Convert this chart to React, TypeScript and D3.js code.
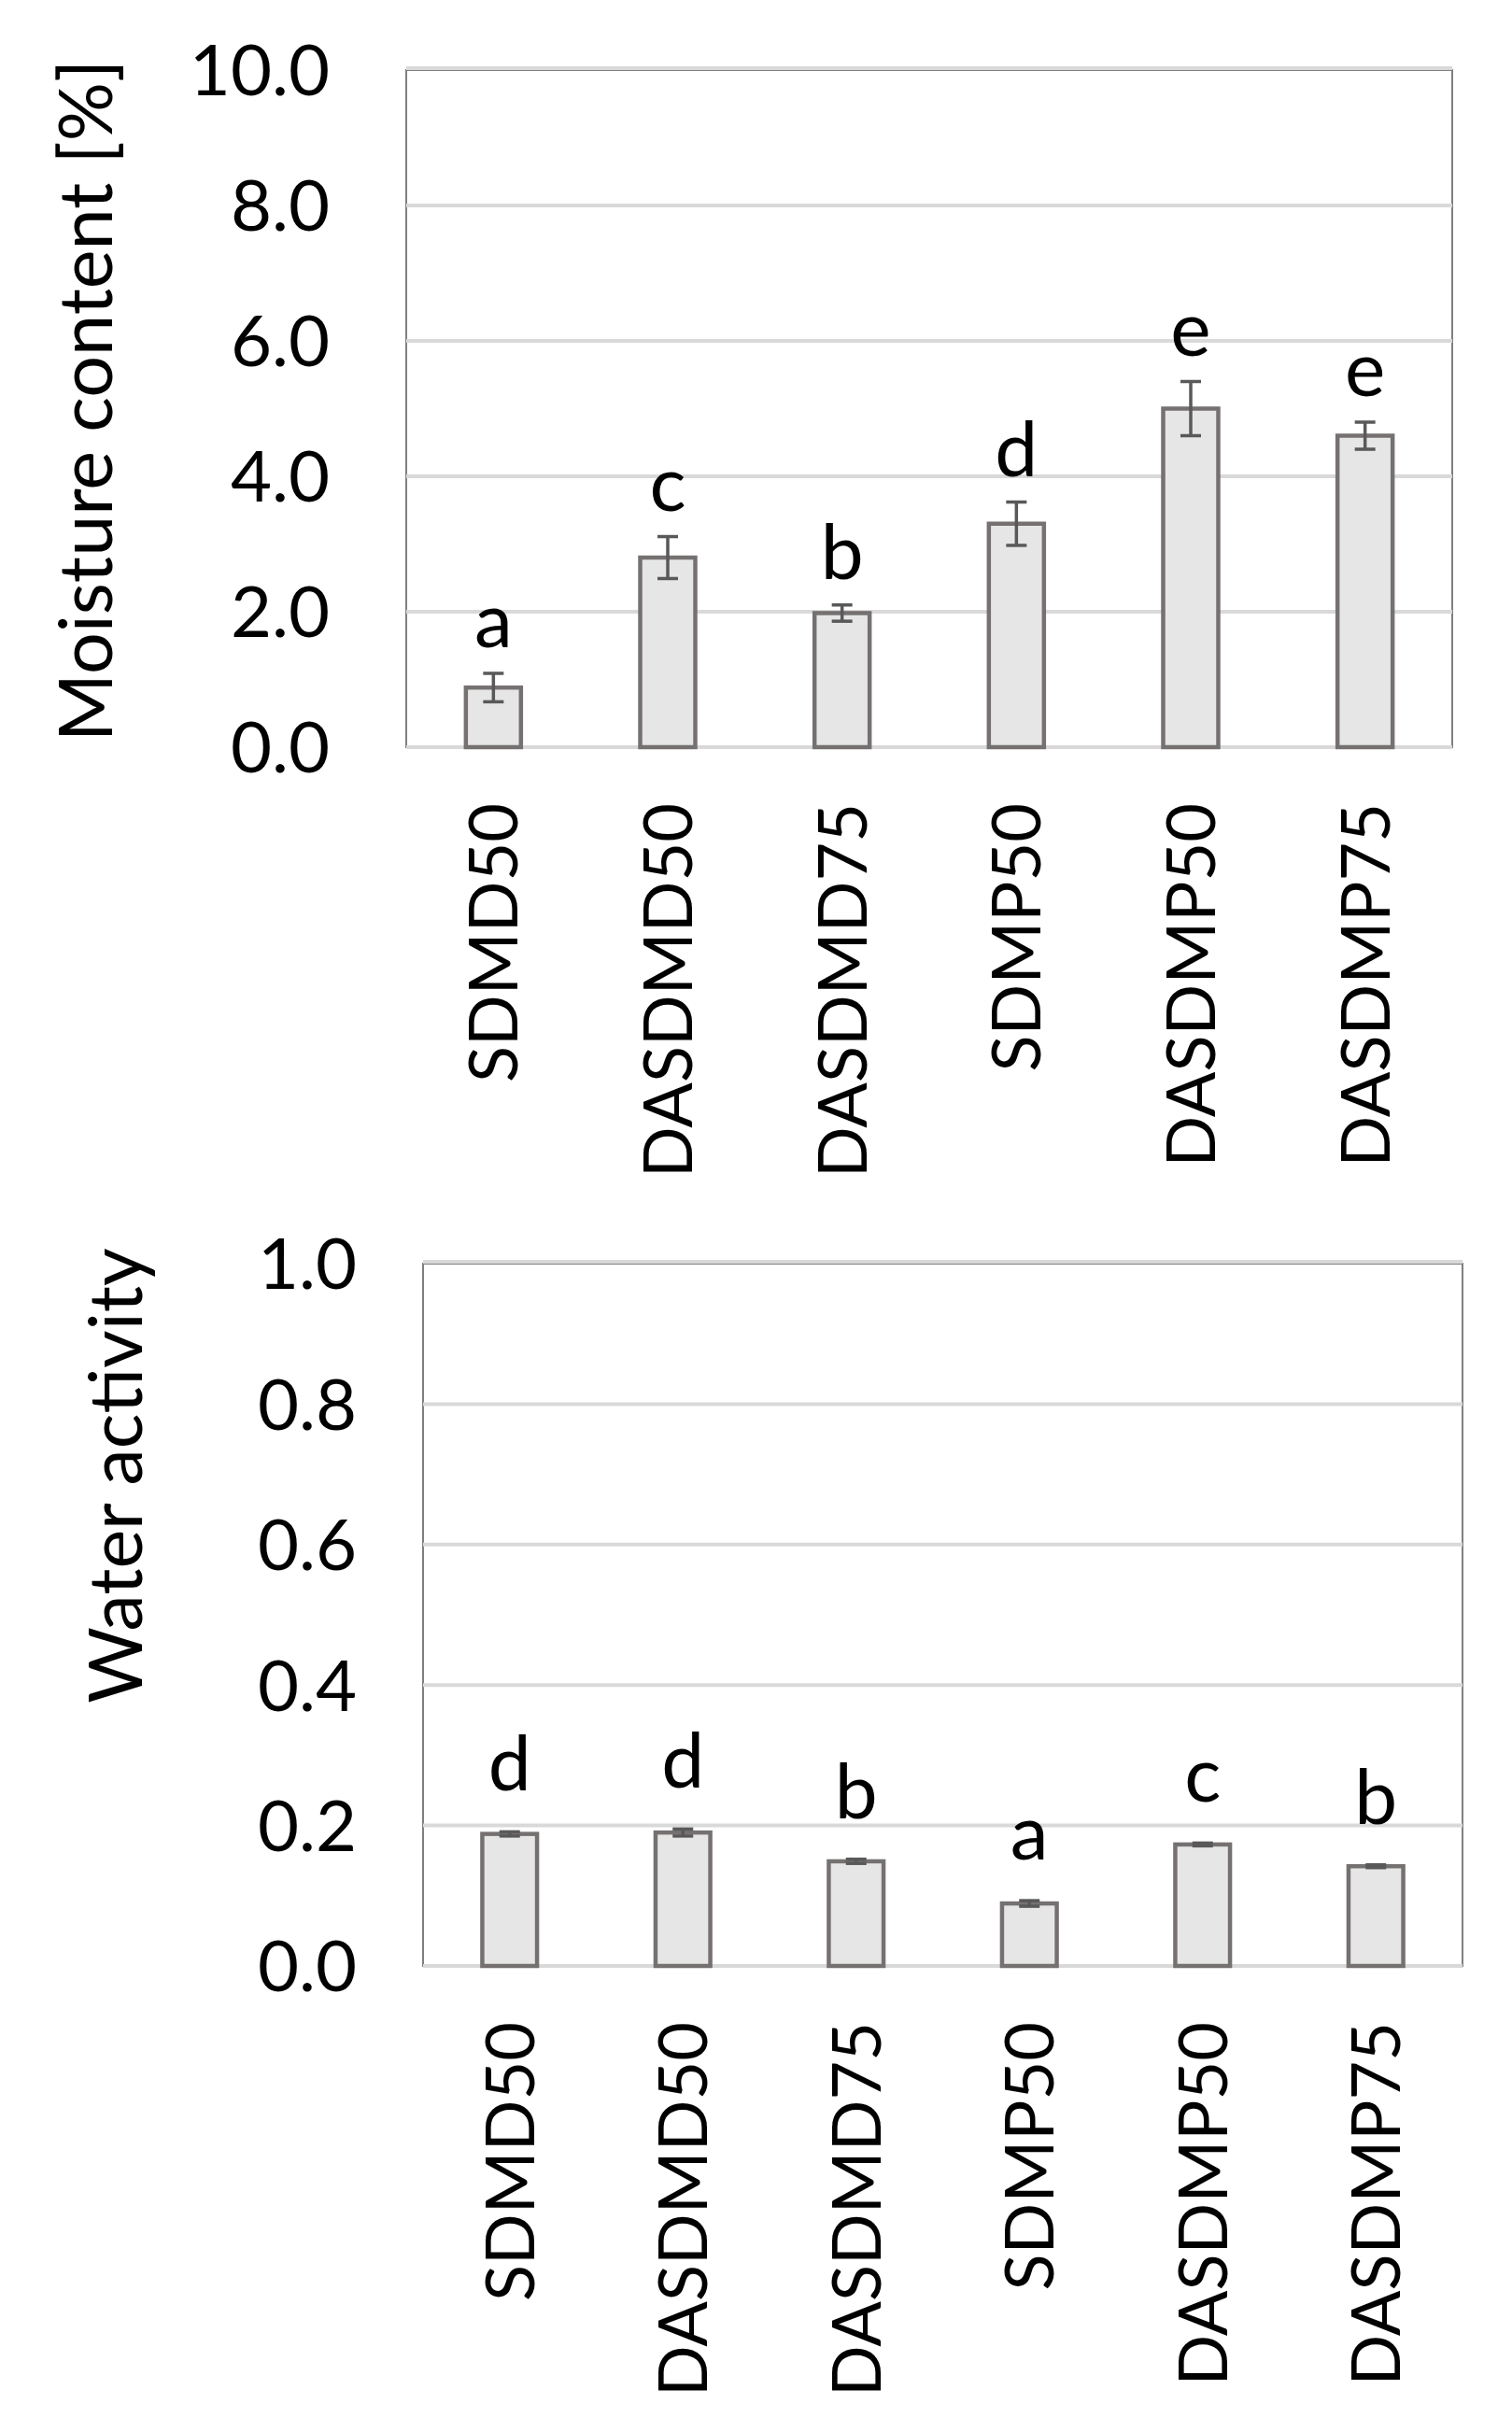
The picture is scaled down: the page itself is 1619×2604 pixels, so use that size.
import { useEffect, useRef } from 'react';
import * as d3 from 'd3';

// sample names, shared by both panels
const categories = ['SDMD50', 'DASDMD50', 'DASDMD75', 'SDMP50', 'DASDMP50', 'DASDMP75'];

// moisture content [%]
const moistureValues = [0.88, 2.8, 1.98, 3.3, 5.0, 4.6];
const moistureErrors = [0.21, 0.31, 0.12, 0.32, 0.4, 0.2];
const moistureLetters = ['a', 'c', 'b', 'd', 'e', 'e'];
const moistureTicks = [0, 2, 4, 6, 8, 10];

// water activity
const awValues = [0.188, 0.19, 0.149, 0.089, 0.173, 0.142];
const awErrors = [0.003, 0.005, 0.003, 0.004, 0.002, 0.002];
const awLetters = ['d', 'd', 'b', 'a', 'c', 'b'];
const awTicks = [0, 0.2, 0.4, 0.6, 0.8, 1.0];

const FONT = 'Lato, "Open Sans", sans-serif';

interface Panel {
  values: number[];
  errors: number[];
  letters: string[];
  ticks: number[];
  max: number;
  title: string;
  left: number;
  right: number;
  top: number;
  bottom: number;
  tickX: number;
  titleX: number;
  titleY: number;
  letterGap: number;
}

const panels: Panel[] = [
  {
    values: moistureValues, errors: moistureErrors, letters: moistureLetters,
    ticks: moistureTicks, max: 10, title: 'Moisture content [%]',
    left: 435, right: 1555, top: 75, bottom: 800,
    tickX: 353, titleX: 120, titleY: 429, letterGap: 28,
  },
  {
    values: awValues, errors: awErrors, letters: awLetters,
    ticks: awTicks, max: 1, title: 'Water activity',
    left: 453, right: 1566, top: 1353, bottom: 2105,
    tickX: 382, titleX: 152, titleY: 1580, letterGap: 44,
  },
];

export default function App() {
  const svgRef = useRef<SVGSVGElement>(null);

  useEffect(() => {
    if (!svgRef.current) return;
    const root = d3.select(svgRef.current);
    root.selectAll('*').remove();

    panels.forEach(p => {
      const g = root.append('g');

      const x = d3.scaleBand()
        .domain(categories)
        .range([p.left, p.right])
        .paddingInner(0.684)
        .paddingOuter(0.342);

      const y = d3.scaleLinear()
        .domain([0, p.max])
        .range([p.bottom, p.top]);

      // plot area border
      g.append('rect')
        .attr('x', p.left)
        .attr('y', p.top)
        .attr('width', p.right - p.left)
        .attr('height', p.bottom - p.top)
        .attr('fill', '#fff')
        .attr('stroke', '#7f7f7f')
        .attr('stroke-width', 2);

      // gridlines
      g.selectAll('line.grid')
        .data(p.ticks)
        .join('line')
        .attr('class', 'grid')
        .attr('x1', p.left)
        .attr('x2', p.right)
        .attr('y1', d => y(d) + (d === p.max ? -2 : 0))
        .attr('y2', d => y(d) + (d === p.max ? -2 : 0))
        .attr('stroke', '#d9d9d9')
        .attr('stroke-width', 4);

      // tick labels
      g.selectAll('text.tick')
        .data(p.ticks)
        .join('text')
        .attr('class', 'tick')
        .attr('x', p.tickX)
        .attr('y', d => y(d))
        .attr('dy', '0.36em')
        .attr('text-anchor', 'end')
        .attr('font-family', FONT)
        .attr('font-size', 76)
        .attr('fill', '#000')
        .text(d => d.toFixed(1));

      // bars
      g.selectAll('rect.bar')
        .data(p.values)
        .join('rect')
        .attr('class', 'bar')
        .attr('x', (_, i) => x(categories[i])!)
        .attr('y', d => y(d))
        .attr('width', x.bandwidth())
        .attr('height', d => p.bottom - y(d))
        .attr('fill', '#e6e6e6')
        .attr('stroke', '#767171')
        .attr('stroke-width', 4.5);

      // error bars
      const cx = (i: number) => x(categories[i])! + x.bandwidth() / 2;
      const err = g.append('g')
        .attr('stroke', '#595959')
        .attr('stroke-width', 3.5);
      p.values.forEach((v, i) => {
        const hi = y(v + p.errors[i]);
        const lo = y(v - p.errors[i]);
        err.append('line').attr('x1', cx(i)).attr('x2', cx(i)).attr('y1', hi).attr('y2', lo);
        err.append('line').attr('x1', cx(i) - 11).attr('x2', cx(i) + 11).attr('y1', hi).attr('y2', hi);
        err.append('line').attr('x1', cx(i) - 11).attr('x2', cx(i) + 11).attr('y1', lo).attr('y2', lo);
      });

      // significance letters
      g.selectAll('text.letter')
        .data(p.letters)
        .join('text')
        .attr('class', 'letter')
        .attr('x', (_, i) => cx(i))
        .attr('y', (_, i) => y(p.values[i] + p.errors[i]) - p.letterGap)
        .attr('text-anchor', 'middle')
        .attr('font-family', FONT)
        .attr('font-size', 82)
        .attr('fill', '#000')
        .text(d => d);

      // category labels, rotated
      g.selectAll('text.cat')
        .data(categories)
        .join('text')
        .attr('class', 'cat')
        .attr('transform', d => `translate(${x(d)! + x.bandwidth() / 2 + 26}, ${p.bottom + 60}) rotate(-90)`)
        .attr('text-anchor', 'end')
        .attr('font-family', FONT)
        .attr('font-size', 72)
        .attr('fill', '#000')
        .text(d => d);

      // axis title
      g.append('text')
        .attr('transform', `translate(${p.titleX}, ${p.titleY}) rotate(-90)`)
        .attr('text-anchor', 'middle')
        .attr('font-family', FONT)
        .attr('font-size', 79)
        .attr('fill', '#000')
        .text(p.title);
    });
  }, []);

  return (
    <svg
      ref={svgRef}
      width={1619}
      height={2604}
      style={{ position: 'absolute', left: 0, top: 0, background: '#fff' }}
    />
  );
}
